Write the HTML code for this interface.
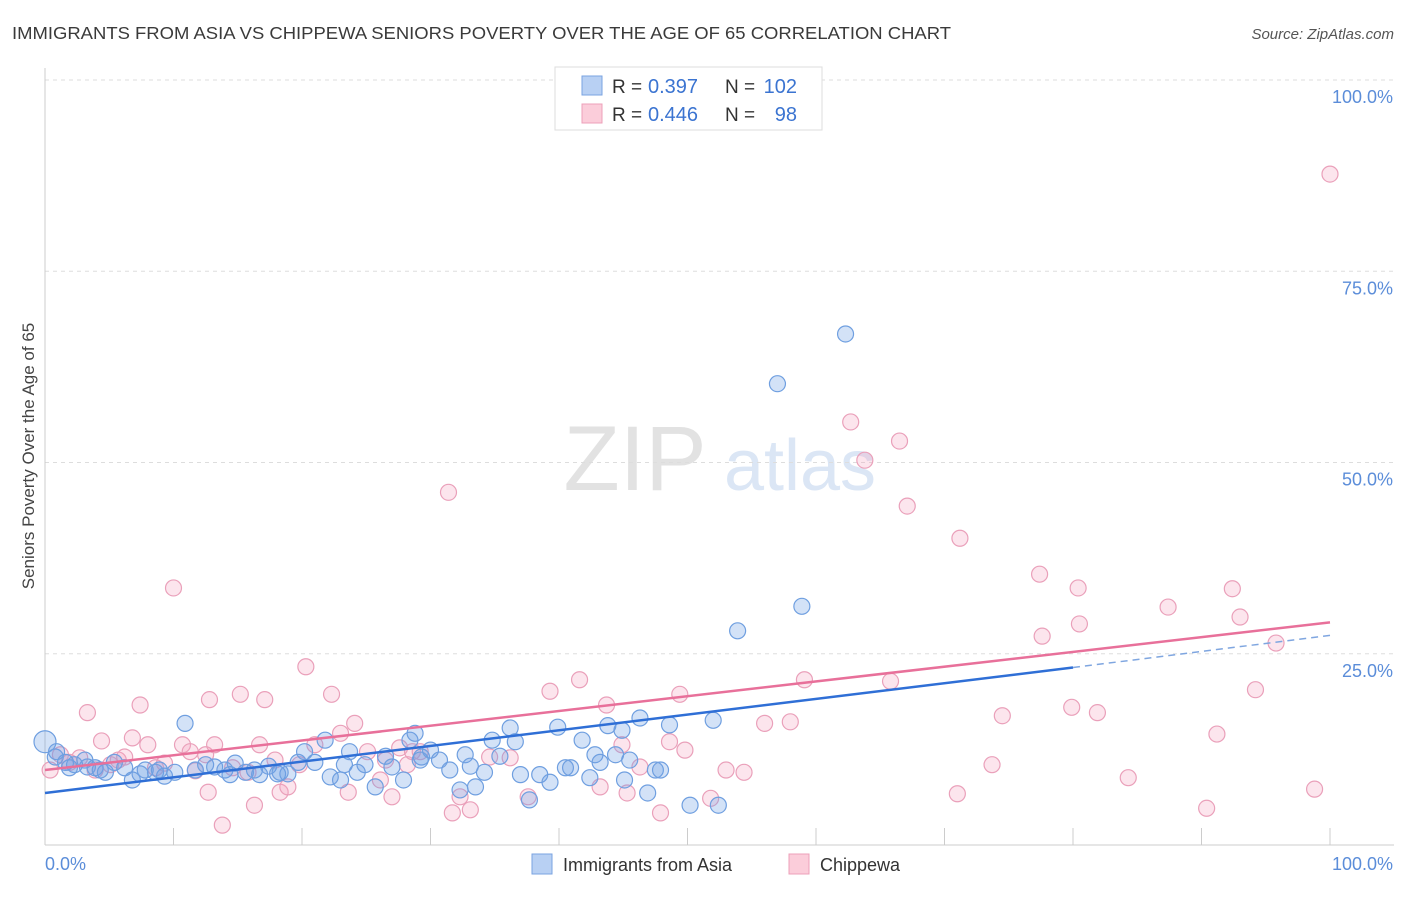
<!DOCTYPE html>
<html><head><meta charset="utf-8">
<style>
body{margin:0;background:#fff;font-family:"Liberation Sans",sans-serif;}
svg text{font-family:"Liberation Sans",sans-serif;}
</style></head>
<body>
<svg id="chart" width="1406" height="892" viewBox="0 0 1406 892" xmlns="http://www.w3.org/2000/svg">
<text x="12" y="39" font-size="17.5" fill="#3a3a3a" textLength="939" lengthAdjust="spacingAndGlyphs">IMMIGRANTS FROM ASIA VS CHIPPEWA SENIORS POVERTY OVER THE AGE OF 65 CORRELATION CHART</text>
<text x="1394" y="39" font-size="15" fill="#555" font-style="italic" text-anchor="end">Source: ZipAtlas.com</text>
<g>
<text x="635" y="490" font-size="92" fill="#e2e2e2" font-family="Liberation Serif" text-anchor="middle">ZIP</text>
<text x="800" y="490" font-size="72" fill="#dbe6f5" text-anchor="middle">atlas</text>
</g>
<g id="grid"></g>
<g id="axes"></g>
<g id="pink"></g>
<g id="blue"></g>
<g id="trends"></g>
<text transform="translate(34,456) rotate(-90)" font-size="17" fill="#444" text-anchor="middle">Seniors Poverty Over the Age of 65</text>
<g>
<rect x="555" y="67" width="267" height="63" fill="#fff" stroke="#ddd"/>
<rect x="582" y="76" width="20" height="19" fill="#b8d0f3" stroke="#7aa3e0"/>
<rect x="582" y="104" width="20" height="19" fill="#fbcdda" stroke="#eda0b9"/>
<text x="612" y="93" font-size="19" fill="#333">R =</text>
<text x="648" y="93" font-size="20" fill="#3b74d1">0.397</text>
<text x="725" y="93" font-size="19" fill="#333">N =</text>
<text x="797" y="93" font-size="20" fill="#3b74d1" text-anchor="end">102</text>
<text x="612" y="121" font-size="19" fill="#333">R =</text>
<text x="648" y="121" font-size="20" fill="#3b74d1">0.446</text>
<text x="725" y="121" font-size="19" fill="#333">N =</text>
<text x="797" y="121" font-size="20" fill="#3b74d1" text-anchor="end">98</text>
</g>
<g>
<rect x="532" y="854" width="20" height="20" fill="#b8d0f3" stroke="#7aa3e0"/>
<text x="563" y="871" font-size="18" fill="#333">Immigrants from Asia</text>
<rect x="789" y="854" width="20" height="20" fill="#fbcdda" stroke="#eda0b9"/>
<text x="820" y="871" font-size="18" fill="#333">Chippewa</text>
</g>
</svg>
<script>
const blueX=[0,0.8,1.6,2.3,3.1,3.9,4.7,5.4,6.2,6.8,7.8,8.6,9.3,10.1,10.9,11.7,12.5,13.2,14.0,14.8,15.6,16.3,17.4,18.1,18.9,19.7,20.2,21.0,21.8,22.2,23.0,23.7,24.3,24.9,25.7,26.5,27.0,27.9,28.4,28.8,29.3,30.0,30.7,31.5,32.3,32.7,33.5,34.2,34.8,35.4,36.2,36.6,37.0,37.7,38.5,39.3,39.9,40.5,40.9,41.8,42.4,42.8,43.8,44.4,44.9,45.5,46.3,46.9,47.5,47.9,48.6,50.2,52.0,52.4,53.9,58.9,57.0,62.3,0.9,1.9,3.3,4.3,8.9,14.4,16.7,18.3,23.3,29.2,33.1,43.2,45.1,7.4];
const blueY=[13.5,11.5,10.8,10.5,11.1,10.1,9.5,10.8,10.1,8.5,9.8,9.5,9.0,9.5,15.9,9.8,10.5,10.2,9.8,10.7,9.5,9.8,10.3,9.3,9.3,10.8,12.2,10.8,13.7,8.9,8.5,12.2,9.5,10.5,7.6,11.6,10.2,8.5,13.7,14.6,11.5,12.4,11.1,9.8,7.2,11.8,7.6,9.5,13.7,11.6,15.3,13.5,9.2,5.9,9.2,8.2,15.4,10.1,10.1,13.7,8.8,11.8,15.6,11.8,15.0,11.1,16.6,6.8,9.8,9.8,15.7,5.2,16.3,5.2,28.0,31.2,60.3,66.8,12.2,10.1,10.2,9.8,9.8,9.2,9.2,9.5,10.5,11.1,10.3,10.8,8.5,9.3];
const pinkX=[0.4,1.2,1.9,2.7,3.3,3.9,4.4,5.1,5.7,6.2,6.8,7.4,8.0,8.6,9.3,10.0,10.7,11.3,11.7,12.5,12.7,12.8,13.2,13.8,14.6,15.2,15.8,16.3,16.7,17.1,17.9,18.3,18.9,19.8,20.3,21.0,22.3,23.0,23.6,24.1,25.1,26.1,26.5,27.0,27.6,28.2,28.6,29.2,31.4,31.7,32.3,33.1,34.6,36.2,37.6,39.3,41.6,43.2,43.7,44.9,45.3,46.3,47.9,48.6,49.4,49.8,51.8,53.0,54.4,56.0,58.0,59.1,62.7,63.8,65.8,66.5,67.1,71.0,71.2,73.7,74.5,77.4,77.6,79.9,80.4,80.5,81.9,84.3,87.4,90.4,91.2,92.4,93.0,94.2,95.8,98.8,100];
const pinkY=[9.8,11.8,10.8,11.4,17.3,9.8,13.6,10.5,11.1,11.5,14.0,18.3,13.1,10.1,10.7,33.6,13.1,12.2,9.7,11.8,6.9,19.0,13.1,2.6,10.1,19.7,9.5,5.2,13.1,19.0,11.1,6.9,7.6,10.5,23.3,13.1,19.7,14.6,6.9,15.9,12.2,8.5,11.1,6.3,12.7,10.5,12.2,12.2,46.1,4.2,6.3,4.6,11.5,11.4,6.3,20.1,21.6,7.6,18.3,13.1,6.8,10.2,4.2,13.5,19.7,12.4,6.1,9.8,9.5,15.9,16.1,21.6,55.3,50.3,21.4,52.8,44.3,6.7,40.1,10.5,16.9,35.4,27.3,18.0,33.6,28.9,17.3,8.8,31.1,4.8,14.5,33.5,29.8,20.3,26.4,7.3,87.7];
const yTicks=[25,50,75,100];
const yTickLabels=["25.0%","50.0%","75.0%","100.0%"];
const blueTrend=[6.8,23.2,27.4];
const pinkTrend=[9.8,29.1];
const NS='http://www.w3.org/2000/svg';
const X=v=>45+v*12.85, Y=v=>845-v*7.65;
function mk(tag,attrs,parent){const e=document.createElementNS(NS,tag);for(const k in attrs)e.setAttribute(k,attrs[k]);document.getElementById(parent).appendChild(e);return e;}
yTicks.forEach((t,i)=>{
  const l=mk('line',{x1:45,x2:1394,y1:Y(t),y2:Y(t),stroke:'#ddd','stroke-dasharray':'4,4'},'grid');
  
  
  const tx=mk('text',{x:1393,y:Y(t)+23,'font-size':18,fill:'#5b8dd9','text-anchor':'end'},'grid');
  tx.textContent=yTickLabels[i];
  
  
});
mk('line',{x1:45,x2:45,y1:68,y2:845,stroke:'#ccc'},'axes');
mk('line',{x1:45,x2:1394,y1:845,y2:845,stroke:'#ccc'},'axes');
for(let i=0;i<=10;i++){const t=mk('line',{x1:X(i*10),x2:X(i*10),y1:828,y2:845,stroke:'#ccc'},'axes');}
const x0=mk('text',{x:45,y:870,'font-size':18,fill:'#5b8dd9'},'axes');x0.textContent='0.0%';


const x1=mk('text',{x:1393,y:870,'font-size':18,fill:'#5b8dd9','text-anchor':'end'},'axes');x1.textContent='100.0%';


pinkX.forEach((v,i)=>{const c=mk('circle',{cx:X(v),cy:Y(pinkY[i]),r:8,fill:'rgba(244,160,190,0.28)',stroke:'#eaa0ba','stroke-width':1.2},'pink');

});
blueX.forEach((v,i)=>{const c=mk('circle',{cx:X(v),cy:Y(blueY[i]),r:i===0?11:8,fill:'rgba(110,160,230,0.3)',stroke:'#6f9fe0','stroke-width':1.2},'blue');

});
let t1=mk('line',{x1:X(0),y1:Y(blueTrend[0]),x2:X(80),y2:Y(blueTrend[1]),stroke:'#2f6fd6','stroke-width':2.5},'trends');


let t2=mk('line',{x1:X(80),y1:Y(blueTrend[1]),x2:X(100),y2:Y(blueTrend[2]),stroke:'#7fa6e0','stroke-width':1.5,'stroke-dasharray':'7,5'},'trends');


let t3=mk('line',{x1:X(0),y1:Y(pinkTrend[0]),x2:X(100),y2:Y(pinkTrend[1]),stroke:'#e8709a','stroke-width':2.5},'trends');


</script>
</body></html>
